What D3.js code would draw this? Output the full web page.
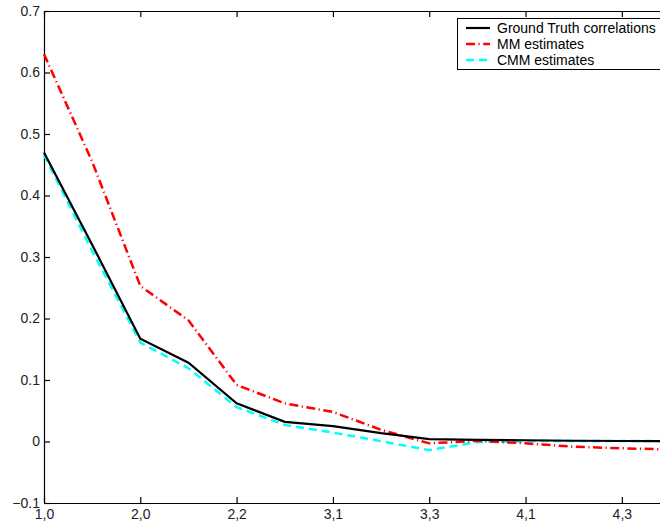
<!DOCTYPE html>
<html><head><meta charset="utf-8">
<script src="https://cdn.jsdelivr.net/npm/d3@7"></script>
<style>body{margin:0;background:#fff}svg{display:block}text{font-family:"Liberation Sans",Arial,Helvetica,sans-serif}</style>
</head><body><svg id="c" width="660" height="523"></svg>
<script>
const categories = ["1,0","1,1","2,0","2,1","2,2","3,0","3,1","3,2","3,3","4,0","4,1","4,2","4,3","4,4"];
const groundTruth = [0.47, 0.32, 0.167, 0.128, 0.062, 0.032, 0.025, 0.0135, 0.004, 0.0025, 0.002, 0.0012, 0.0008, 0.0005];
const mmEstimates = [0.63, 0.455, 0.253, 0.197, 0.092, 0.062, 0.048, 0.019, -0.003, 0.001, -0.003, -0.0085, -0.011, -0.013];
const cmmEstimates = [0.466, 0.31, 0.161, 0.119, 0.056, 0.027, 0.0145, 0.0005, -0.014, -0.001, 0.0005, 0.001, 0.001, 0.0005];
const xTickLabels = ["1,0","2,0","2,2","3,1","3,3","4,1","4,3"];
const yTicks = [-0.1, 0, 0.1, 0.2, 0.3, 0.4, 0.5, 0.6, 0.7];
const seriesNames = ["Ground Truth correlations", "MM estimates", "CMM estimates"];

const svg = d3.select("#c");
const L = 44, T = 11, B = 503, R = 670;
const x = d3.scalePoint().domain(categories).range([L, R]);
const y = d3.scaleLinear().domain([-0.1, 0.7]).range([B, T]);

const fmtY = d => d === 0 ? "0" : (d < 0 ? "\u2212" + Math.abs(d).toFixed(1) : d.toFixed(1));

// axes
const gL = svg.append("g").attr("transform", `translate(${L},0)`)
  .call(d3.axisLeft(y).tickValues(yTicks).tickFormat(fmtY).tickSizeInner(-6).tickSizeOuter(0).tickPadding(4));
const gB = svg.append("g").attr("transform", `translate(0,${B})`)
  .call(d3.axisBottom(x).tickValues(xTickLabels).tickSizeInner(-6).tickSizeOuter(0).tickPadding(6));
const gT = svg.append("g").attr("transform", `translate(0,${T})`)
  .call(d3.axisTop(x).tickValues(xTickLabels).tickFormat("").tickSizeInner(-6).tickSizeOuter(0));
const gR = svg.append("g").attr("transform", `translate(${R},0)`)
  .call(d3.axisRight(y).tickValues(yTicks).tickFormat("").tickSizeInner(-6).tickSizeOuter(0));
[gL, gB, gT, gR].forEach(g => {
  g.selectAll("path,line").attr("stroke", "#000").attr("stroke-width", 1.2);
  g.selectAll("text").attr("font-size", 14).attr("fill", "#222");
});

const line = d3.line().x((d, i) => x(categories[i])).y(d => y(d));
const styles = [
  {data: groundTruth, color: "#000", w: 2.2, dash: null},
  {data: mmEstimates, color: "#ff0000", w: 2.5, dash: "9,3.5,1.2,3.5"},
  {data: cmmEstimates, color: "#00ffff", w: 2.5, dash: "8,5"}
];
[styles[2], styles[1], styles[0]].forEach(s => {
  svg.append("path").datum(s.data).attr("d", line)
    .attr("fill", "none").attr("stroke", s.color).attr("stroke-width", s.w)
    .attr("stroke-dasharray", s.dash).attr("stroke-linejoin", "miter");
});

// legend
const lg = svg.append("g");
lg.append("rect").attr("x", 457.5).attr("y", 18.5).attr("width", 210).attr("height", 51)
  .attr("fill", "#fff").attr("stroke", "#000").attr("stroke-width", 1);
styles.forEach((s, i) => {
  const yy = 28 + i * 16;
  lg.append("line").attr("x1", 466).attr("x2", 490).attr("y1", yy).attr("y2", yy)
    .attr("stroke", s.color).attr("stroke-width", s.w).attr("stroke-dasharray", s.dash);
  lg.append("text").attr("x", 497).attr("y", yy).attr("dy", "0.35em")
    .attr("font-size", 14).attr("fill", "#000").text(seriesNames[i]);
});
</script></body></html>
